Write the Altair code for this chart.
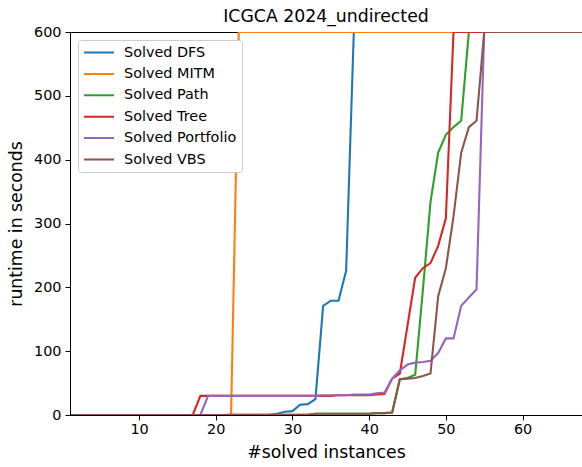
import altair as alt
import pandas as pd

# Runtime (seconds) of each solver, sorted ascending; 600 = timeout.
instances = list(range(1, 69))

dfs = [0, 0, 0, 0, 0, 0, 0, 0, 0, 0, 0, 0, 0, 0, 0, 0, 0, 0, 0, 0,
       0, 0, 0, 0, 0, 0, 0.5, 2, 5, 6, 16, 17, 25, 171, 179, 179, 226, 600, 600, 600,
       600, 600, 600, 600, 600, 600, 600, 600, 600, 600, 600, 600, 600, 600, 600, 600, 600, 600, 600, 600,
       600, 600, 600, 600, 600, 600, 600, 600]

mitm = [0, 0, 0, 0, 0, 0, 0, 0, 0, 0, 0, 0, 0, 0, 0, 0, 0, 0, 0, 0,
        0, 0, 600, 600, 600, 600, 600, 600, 600, 600, 600, 600, 600, 600, 600, 600, 600, 600, 600, 600,
        600, 600, 600, 600, 600, 600, 600, 600, 600, 600, 600, 600, 600, 600, 600, 600, 600, 600, 600, 600,
        600, 600, 600, 600, 600, 600, 600, 600]

path = [0, 0, 0, 0, 0, 0, 0, 0, 0, 0, 0, 0, 0, 0, 0, 0, 0, 0, 0, 0,
        0, 0.5, 0.5, 0.5, 0.5, 0.5, 0.5, 0.5, 0.5, 0.5, 0.5, 0.5, 2, 2, 2, 2, 2, 2, 2, 2,
        3, 3, 4, 56, 58, 63, 195, 334, 411, 439, 451, 461, 600, 600, 600, 600, 600, 600, 600, 600,
        600, 600, 600, 600, 600, 600, 600, 600]

tree = [0, 0, 0, 0, 0, 0, 0, 0, 0, 0, 0, 0, 0, 0, 0, 0, 0, 30, 30, 30,
        30, 30, 30, 30, 30, 30, 30, 30, 30, 30, 30, 30, 30, 30, 30, 31, 31, 31, 31, 31,
        32, 33, 57, 65, 140, 215, 230, 238, 265, 308, 600, 600, 600, 600, 600, 600, 600, 600, 600, 600,
        600, 600, 600, 600, 600, 600, 600, 600]

portfolio = [0, 0, 0, 0, 0, 0, 0, 0, 0, 0, 0, 0, 0, 0, 0, 0, 0, 0, 30, 30,
             30, 30, 30, 30, 30, 30, 30, 30, 30, 30, 30, 30, 30, 31, 31, 31, 31, 32, 32, 32,
             34, 35, 57, 70, 79, 82, 83, 85, 97, 120, 120, 171, 184, 197, 600, 600, 600, 600, 600, 600,
             600, 600, 600, 600, 600, 600, 600, 600]

vbs = [0, 0, 0, 0, 0, 0, 0, 0, 0, 0, 0, 0, 0, 0, 0, 0, 0, 0, 0, 0,
       0, 0.5, 0.5, 0.5, 0.5, 0.5, 0.5, 0.5, 0.5, 0.5, 0.5, 0.5, 2, 2, 2, 2, 2, 2, 2, 2,
       3, 3, 4, 56, 57, 58, 61, 65, 186, 230, 311, 411, 451, 461, 600, 600, 600, 600, 600, 600,
       600, 600, 600, 600, 600, 600, 600, 600]

series_names = ["Solved DFS", "Solved MITM", "Solved Path", "Solved Tree",
                "Solved Portfolio", "Solved VBS"]
series_values = [dfs, mitm, path, tree, portfolio, vbs]
colors = ["#1f77b4", "#ff7f0e", "#2ca02c", "#d62728", "#9467bd", "#8c564b"]

rows = []
for name, vals in zip(series_names, series_values):
    for x, y in zip(instances, vals):
        rows.append({"solver": name, "n": x, "runtime": y})
df = pd.DataFrame(rows)

FONT = "DejaVu Sans"

x_enc = alt.X("n:Q", title="#solved instances",
              scale=alt.Scale(domain=[1, 67.75], nice=False, zero=False),
              axis=alt.Axis(values=[10, 20, 30, 40, 50, 60], grid=False, zindex=1))
y_enc = alt.Y("runtime:Q", title="runtime in seconds",
              scale=alt.Scale(domain=[0, 600], nice=False),
              axis=alt.Axis(values=[0, 100, 200, 300, 400, 500, 600], grid=False, zindex=1))
color_enc = alt.Color(
    "solver:N",
    scale=alt.Scale(domain=series_names, range=colors),
    sort=series_names,
    legend=alt.Legend(
        orient="top-left", title=None, symbolType="stroke",
        symbolSize=900, symbolStrokeWidth=2, clipHeight=15,
        labelFontSize=14.4, labelFont=FONT, labelColor="black",
        labelOffset=9, rowPadding=5.4,
        strokeColor="#cccccc", fillColor="white",
        padding=5, cornerRadius=3, offset=8),
)

base = alt.Chart(df)

# one layer per solver so later series are drawn on top of earlier ones
lines = [
    base.transform_filter(alt.datum.solver == name)
    .mark_line(strokeWidth=2.1, clip=True)
    .encode(x=x_enc, y=y_enc, color=color_enc, order="n:Q")
    for name in series_names
]

chart = (
    alt.layer(*lines)
    .properties(
        width=512, height=383,
        title=alt.Title("ICGCA 2024_undirected", font=FONT, fontSize=17.3,
                        fontWeight="normal", color="black", offset=2, dy=3.5),
        autosize=alt.AutoSizeParams(type="none"),
        padding={"left": 70, "top": 32, "right": 0, "bottom": 52},
    )
    .configure_view(stroke="black", strokeWidth=1)
    .configure_axis(
        domainColor="black", tickColor="black", tickSize=5, tickWidth=1,
        labelFont=FONT, labelFontSize=14.4, labelColor="black", labelPadding=4,
        titleFont=FONT, titleFontSize=17.3, titleFontWeight="normal", titleColor="black",
    )
    .configure_axisX(titlePadding=8, labelPadding=2)
    .configure_axisY(titlePadding=8)
)

chart.save("out.html", embed_options={"renderer": "svg", "actions": False})
